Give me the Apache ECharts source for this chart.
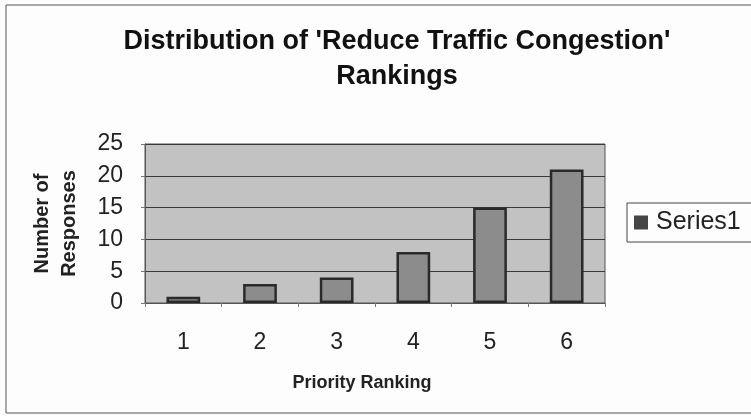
<!DOCTYPE html>
<html>
<head>
<meta charset="utf-8">
<script src="https://cdn.jsdelivr.net/npm/echarts@6/dist/echarts.min.js"></script>
<style>
  html, body { margin: 0; padding: 0; background: #fdfdfd; }
  #chart { width: 751px; height: 416px; }
</style>
</head>
<body>
<div id="chart"></div>
<script>
// Priority rankings and how many responses each received
const categories = ['1', '2', '3', '4', '5', '6'];
const responses = [1, 3, 4, 8, 15, 21];
const seriesName = 'Series1';
const titleLines = ["Distribution of 'Reduce Traffic Congestion'", 'Rankings'];
const xAxisTitle = 'Priority Ranking';
const yAxisTitle = 'Number of\nResponses';

const FONT = 'Liberation Sans, Arial, sans-serif';
const chart = echarts.init(document.getElementById('chart'), null, { renderer: 'canvas' });

chart.setOption({
  backgroundColor: '#fdfdfd',
  animation: false,
  title: {
    text: titleLines.join('\n'),
    left: 392,
    textAlign: 'center',
    top: 19,
    textStyle: { fontFamily: FONT, fontSize: 27, fontWeight: 'bold', color: '#111', lineHeight: 35 }
  },
  legend: {
    data: [seriesName],
    left: 627,
    top: 203,
    padding: [7, 40, 7, 7],
    itemWidth: 14,
    itemHeight: 14,
    itemGap: 0,
    borderColor: '#444',
    borderWidth: 1,
    icon: 'rect',
    itemStyle: { color: '#454545', borderWidth: 0 },
    textStyle: { fontFamily: FONT, fontSize: 25, color: '#222', padding: [0, 0, 0, 3] }
  },
  graphic: [{
    type: 'rect',
    shape: { x: 6, y: 5, width: 760, height: 408 },
    style: { fill: 'none', stroke: '#555', lineWidth: 1 },
    silent: true
  }],
  grid: {
    left: 145, top: 144, width: 460, height: 159,
    show: true, backgroundColor: '#c2c2c2', borderColor: '#555', borderWidth: 1
  },
  xAxis: {
    type: 'category',
    data: categories,
    name: xAxisTitle,
    nameLocation: 'middle',
    nameGap: 71,
    nameTextStyle: { fontFamily: FONT, fontSize: 18, fontWeight: 'bold', color: '#222', padding: [0, 26, 0, 0] },
    axisLine: { lineStyle: { color: '#555' } },
    axisTick: { show: true, length: 4, lineStyle: { color: '#777' } },
    axisLabel: { fontFamily: FONT, fontSize: 23, color: '#222', margin: 28 }
  },
  yAxis: {
    type: 'value',
    min: 0, max: 25, interval: 5,
    name: yAxisTitle,
    nameLocation: 'middle',
    nameGap: 62,
    nameRotate: 90,
    nameTextStyle: { fontFamily: FONT, fontSize: 20, fontWeight: 'bold', color: '#222', lineHeight: 27 },
    axisLine: { show: true, lineStyle: { color: '#555' } },
    axisTick: { show: true, length: 4, lineStyle: { color: '#777' } },
    splitLine: { lineStyle: { color: '#3a3a3a', width: 1 } },
    axisLabel: { fontFamily: FONT, fontSize: 23, color: '#222', margin: 22 }
  },
  series: [{
    name: seriesName,
    type: 'bar',
    data: responses,
    barWidth: '44%',
    itemStyle: { color: '#8c8c8c', borderColor: '#2a2a2a', borderWidth: 2.5 }
  }]
});
</script>
</body>
</html>
